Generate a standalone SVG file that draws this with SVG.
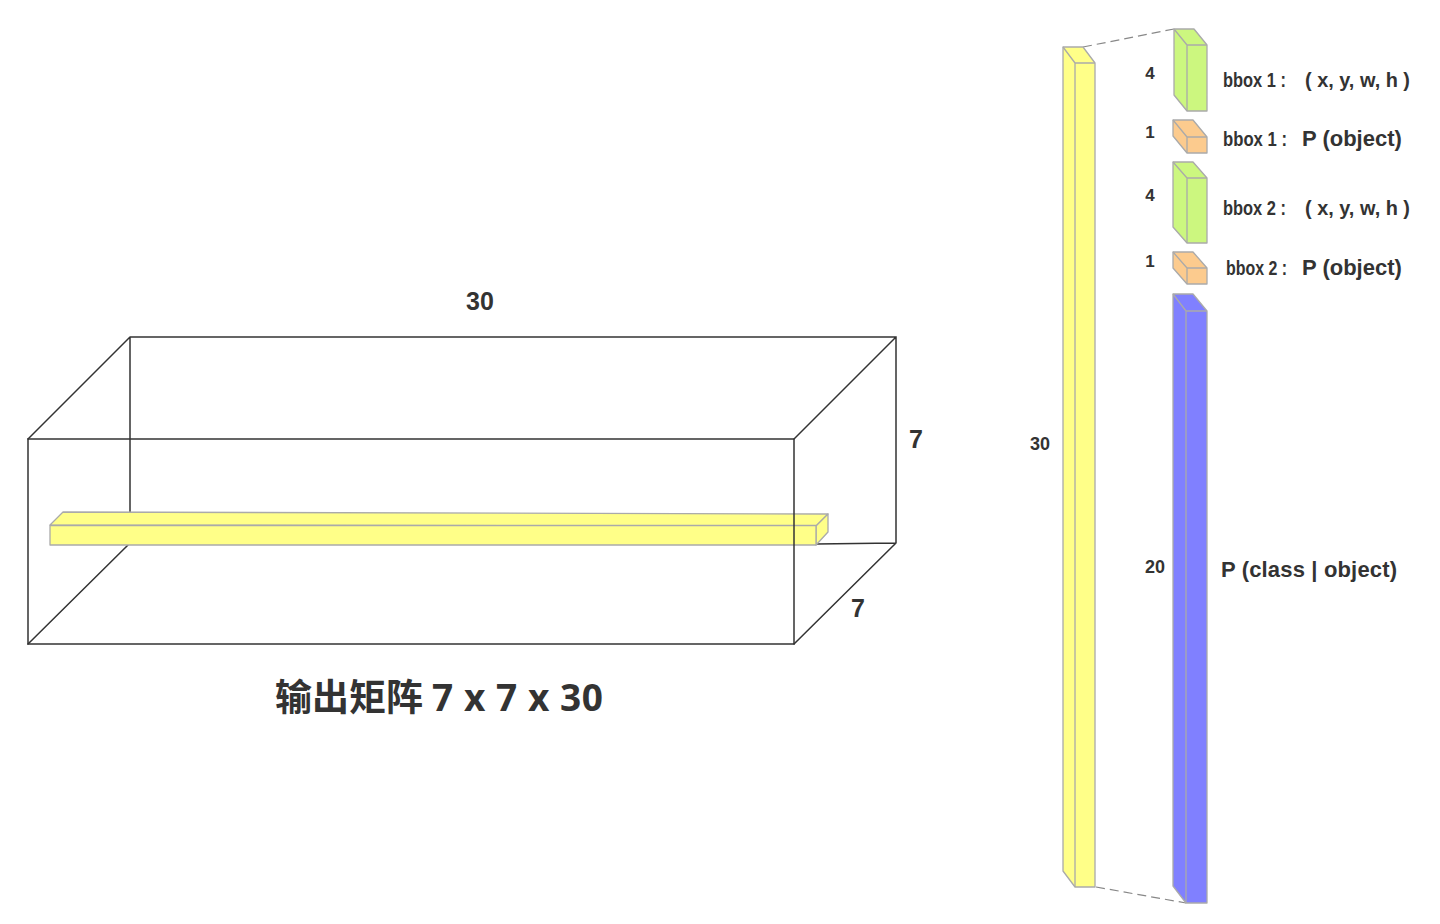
<svg xmlns="http://www.w3.org/2000/svg" width="1440" height="924" viewBox="0 0 1440 924">
<style>
.edge{fill:none;stroke:#333;stroke-width:1.5;stroke-linecap:round}
.cube{stroke:#aaa;stroke-width:1.3;stroke-linejoin:round}
.inner{fill:none;stroke:#aaa;stroke-width:1.3}
.dash{fill:none;stroke:#888;stroke-width:1.2;stroke-dasharray:9 5}
.num{font-family:"Liberation Sans",Arial,sans-serif;font-weight:bold;fill:#333}
.lbl{font-family:"Liberation Sans",Arial,sans-serif;font-weight:bold;fill:#333}
.cap{font-family:"Open Sans","Noto Sans CJK SC",sans-serif;font-weight:bold;fill:#333}
.y{fill:#ffff88}.g{fill:#ccf77f}.o{fill:#fccb8e}.b{fill:#8080ff}
</style>
<rect width="1440" height="924" fill="#fff"/>

<g id="matrix">
  <path class="edge" d="M130,337 L896,337 L896,543 M130,337 L130,512 M28,439 L130,337 M794,439 L896,337 M794,644 L896,543 M896,543 L816,544 M28,644 L128,545"/>
  <g id="bar">
    <polygon class="cube y" points="50,525 63,512 828,514 816,526"/>
    <polygon class="cube y" points="816,526 828,514 828,532 816,545"/>
    <rect class="cube y" x="50" y="525.5" width="766" height="19.5"/>
  </g>
  <path class="edge" d="M28,439 L794,439 L794,644 L28,644 Z"/>
</g>

<g id="labels-matrix">
  <text class="num" x="480" y="310" font-size="25" text-anchor="middle">30</text>
  <text class="num" x="916" y="448" font-size="25" text-anchor="middle">7</text>
  <text class="num" x="858" y="617" font-size="25" text-anchor="middle">7</text>
  <text class="cap" y="711" font-size="37"><tspan x="275">输出矩阵</tspan><tspan x="432" textLength="171" lengthAdjust="spacing">7 x 7 x 30</tspan></text>
</g>

<g id="connectors">
  <line class="dash" x1="1083" y1="47" x2="1174" y2="29"/>
  <line class="dash" x1="1096" y1="887" x2="1186" y2="903"/>
</g>

<g id="column">
  <path class="cube y" d="M1063,47 L1083,47 L1095,63 L1095,887 L1075,887 L1063,871 Z"/>
  <path class="inner" d="M1063,47 L1075,63 L1095,63 M1075,63 L1075,887"/>
  <text class="num" x="1040" y="450" font-size="18" text-anchor="middle">30</text>
</g>

<g id="bbox1-xywh">
  <path class="cube g" d="M1174,29 L1194,29 L1207,45 L1207,111 L1187,111 L1174,95 Z"/>
  <path class="inner" d="M1174,29 L1187,45 L1207,45 M1187,45 L1187,111"/>
  <text class="num" x="1150" y="79" font-size="17" text-anchor="middle">4</text>
  <text class="lbl" y="87" font-size="20.5"><tspan x="1223" textLength="63" lengthAdjust="spacingAndGlyphs">bbox 1 :</tspan><tspan x="1305" textLength="105" lengthAdjust="spacingAndGlyphs">( x, y, w, h )</tspan></text>
</g>

<g id="bbox1-p">
  <path class="cube o" d="M1173,120 L1193,120 L1207,137 L1207,153 L1187,153 L1173,136 Z"/>
  <path class="inner" d="M1173,120 L1187,137 L1207,137 M1187,137 L1187,153"/>
  <text class="num" x="1150" y="138" font-size="17" text-anchor="middle">1</text>
  <text class="lbl" y="146"><tspan x="1223" font-size="20.5" textLength="64" lengthAdjust="spacingAndGlyphs">bbox 1 :</tspan><tspan x="1302" font-size="22">P (object)</tspan></text>
</g>

<g id="bbox2-xywh">
  <path class="cube g" d="M1173,162 L1193,162 L1207,178 L1207,243 L1187,243 L1173,227 Z"/>
  <path class="inner" d="M1173,162 L1187,178 L1207,178 M1187,178 L1187,243"/>
  <text class="num" x="1150" y="201" font-size="17" text-anchor="middle">4</text>
  <text class="lbl" y="215" font-size="20.5"><tspan x="1223" textLength="63" lengthAdjust="spacingAndGlyphs">bbox 2 :</tspan><tspan x="1305" textLength="105" lengthAdjust="spacingAndGlyphs">( x, y, w, h )</tspan></text>
</g>

<g id="bbox2-p">
  <path class="cube o" d="M1173,252 L1193,252 L1207,268 L1207,284 L1187,284 L1173,268 Z"/>
  <path class="inner" d="M1173,252 L1187,268 L1207,268 M1187,268 L1187,284"/>
  <text class="num" x="1150" y="267" font-size="17" text-anchor="middle">1</text>
  <text class="lbl" y="275"><tspan x="1226" font-size="20.5" textLength="61" lengthAdjust="spacingAndGlyphs">bbox 2 :</tspan><tspan x="1302" font-size="22">P (object)</tspan></text>
</g>

<g id="class-prob">
  <path class="cube b" d="M1173,294 L1193,294 L1207,311 L1207,903 L1186,903 L1173,886 Z"/>
  <path class="inner" d="M1173,294 L1186,311 L1207,311 M1186,311 L1186,903"/>
  <text class="num" x="1155" y="573" font-size="18" text-anchor="middle">20</text>
  <text class="lbl" x="1221" y="577" font-size="22" textLength="176" lengthAdjust="spacing">P (class | object)</text>
</g>
</svg>
